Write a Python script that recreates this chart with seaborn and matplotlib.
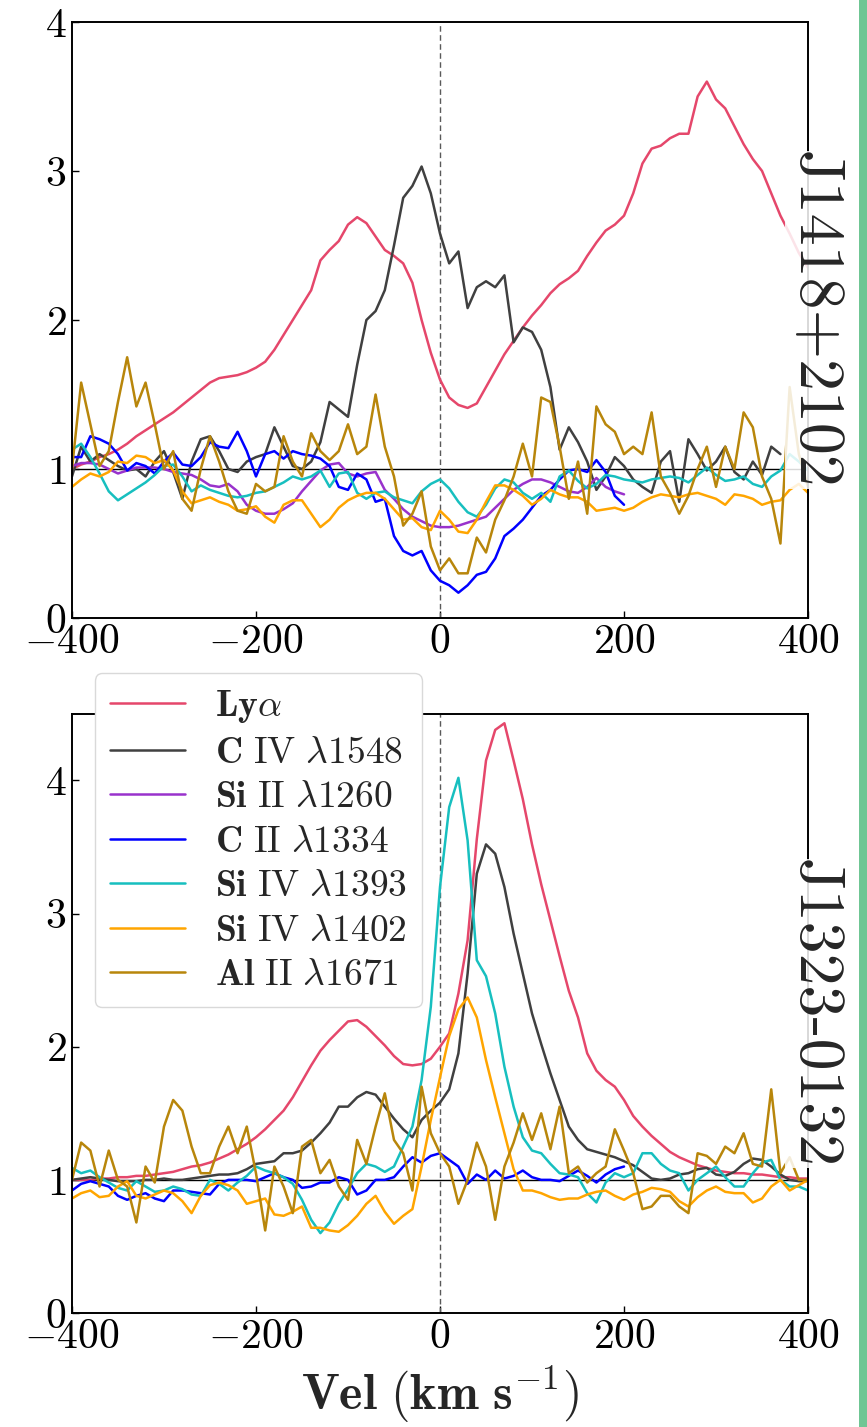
import matplotlib
matplotlib.use("Agg")
import matplotlib.pyplot as plt
from matplotlib.patches import Rectangle
import seaborn as sns
import numpy as np
import pandas as pd

# ---------------- data ----------------
VEL = np.arange(-400, 401, 10)          # full velocity grid (km/s)
VEL_TO200 = np.arange(-400, 201, 10)
VEL_TO370 = np.arange(-400, 371, 10)

LINE_NAMES = ["Lya", "CIV1548", "SiII1260", "CII1334", "SiIV1393", "SiIV1402", "AlII1671"]
LINE_LABELS = [r"$\mathbf{Ly}\alpha$",
               r"$\mathbf{C}\ \mathrm{IV}\ \lambda1548$",
               r"$\mathbf{Si}\ \mathrm{II}\ \lambda1260$",
               r"$\mathbf{C}\ \mathrm{II}\ \lambda1334$",
               r"$\mathbf{Si}\ \mathrm{IV}\ \lambda1393$",
               r"$\mathbf{Si}\ \mathrm{IV}\ \lambda1402$",
               r"$\mathbf{Al}\ \mathrm{II}\ \lambda1671$"]
LINE_COLORS = ["#e5476b", "#404040", "#9932cc", "#0000ff", "#17bfbf", "#ffa500", "#b8860b"]

OBJ_TOP = "J1418+2102"
OBJ_BOT = "J1323-0132"

# ---- J1418+2102 (top panel) ----
top_lya = [1.00, 1.03, 1.05, 1.08, 1.10, 1.13, 1.17, 1.22, 1.26, 1.30,
           1.34, 1.38, 1.43, 1.48, 1.53, 1.58, 1.61, 1.62, 1.63, 1.65,
           1.68, 1.72, 1.80, 1.90, 2.00, 2.10, 2.20, 2.40, 2.47, 2.53,
           2.64, 2.69, 2.65, 2.56, 2.47, 2.43, 2.38, 2.25, 2.00, 1.78,
           1.60, 1.48, 1.43, 1.41, 1.44, 1.55, 1.66, 1.77, 1.86, 1.95,
           2.03, 2.10, 2.18, 2.24, 2.28, 2.33, 2.43, 2.52, 2.60, 2.64,
           2.70, 2.85, 3.05, 3.15, 3.17, 3.22, 3.25, 3.25, 3.50, 3.60,
           3.48, 3.42, 3.30, 3.18, 3.08, 3.00, 2.85, 2.70, 2.58, 2.45,
           2.35]
top_civ = [0.95, 1.15, 1.05, 1.10, 1.06, 1.02, 0.99, 1.00, 0.95, 1.05,
           1.12, 0.98, 0.80, 1.05, 1.20, 1.22, 1.12, 1.00, 0.98, 1.05,
           1.08, 1.10, 1.28, 1.15, 1.02, 1.00, 1.05, 1.18, 1.45, 1.40,
           1.35, 1.70, 2.00, 2.06, 2.20, 2.50, 2.82, 2.90, 3.03, 2.85,
           2.58, 2.38, 2.46, 2.08, 2.22, 2.26, 2.22, 2.30, 1.85, 1.95,
           1.92, 1.80, 1.55, 1.13, 1.28, 1.18, 1.05, 0.86, 0.95, 1.08,
           1.02, 0.93, 0.88, 0.84, 1.05, 1.12, 0.78, 1.20, 1.10, 0.99,
           1.05, 1.15, 0.98, 0.93, 1.05, 0.96, 1.15, 1.10]
top_siii = [1.02, 1.04, 1.04, 1.03, 1.00, 0.97, 0.99, 1.01, 1.01, 1.01,
            1.00, 0.98, 0.97, 0.96, 0.93, 0.89, 0.88, 0.90, 0.85, 0.76,
            0.72, 0.70, 0.70, 0.73, 0.77, 0.85, 0.92, 0.99, 1.03, 1.04,
            0.97, 0.95, 0.97, 0.98, 0.86, 0.80, 0.73, 0.68, 0.65, 0.62,
            0.61, 0.61, 0.62, 0.64, 0.66, 0.68, 0.74, 0.80, 0.86, 0.90,
            0.93, 0.93, 0.91, 0.88, 0.85, 0.84, 0.88, 0.94, 0.88, 0.85,
            0.83]
top_cii = [1.08, 1.08, 1.22, 1.20, 1.17, 1.10, 0.99, 1.04, 1.02, 0.97,
           1.05, 1.11, 1.03, 1.02, 1.08, 1.18, 1.15, 1.14, 1.25, 1.12,
           0.95, 1.10, 1.12, 1.07, 1.12, 1.10, 1.09, 1.07, 1.02, 0.88,
           0.86, 0.97, 0.93, 0.78, 0.80, 0.55, 0.45, 0.42, 0.45, 0.32,
           0.25, 0.22, 0.17, 0.22, 0.29, 0.31, 0.40, 0.55, 0.60, 0.66,
           0.74, 0.82, 0.86, 0.93, 0.99, 1.00, 0.98, 1.06, 0.98, 0.82,
           0.76]
top_siiv93 = [1.13, 1.17, 1.08, 0.97, 0.85, 0.79, 0.83, 0.87, 0.91, 0.96,
              1.02, 1.03, 0.95, 0.85, 0.89, 0.86, 0.84, 0.82, 0.81, 0.82,
              0.84, 0.85, 0.88, 0.91, 0.95, 0.93, 0.95, 0.99, 0.88, 0.97,
              0.98, 0.84, 0.80, 0.84, 0.85, 0.81, 0.79, 0.77, 0.85, 0.90,
              0.93, 0.87, 0.78, 0.71, 0.68, 0.76, 0.87, 0.93, 0.91, 0.84,
              0.80, 0.84, 0.78, 0.95, 0.99, 0.92, 0.87, 0.90, 0.96, 0.95,
              0.93, 0.92, 0.91, 0.93, 0.94, 0.95, 0.94, 0.91, 0.96, 1.01,
              0.96, 0.92, 0.93, 0.95, 0.90, 0.88, 0.95, 0.99, 1.10, 1.05,
              0.99]
top_siiv02 = [0.88, 0.93, 0.97, 0.95, 0.98, 1.05, 1.04, 1.09, 1.08, 1.04,
              1.06, 0.99, 0.85, 0.77, 0.79, 0.81, 0.78, 0.76, 0.72, 0.73,
              0.75, 0.68, 0.64, 0.76, 0.79, 0.79, 0.70, 0.61, 0.66, 0.74,
              0.79, 0.82, 0.84, 0.84, 0.80, 0.73, 0.66, 0.67, 0.61, 0.59,
              0.72, 0.66, 0.58, 0.57, 0.66, 0.78, 0.89, 0.89, 0.86, 0.82,
              0.76, 0.80, 0.86, 0.83, 0.81, 0.81, 0.78, 0.72, 0.73, 0.74,
              0.72, 0.74, 0.78, 0.81, 0.83, 0.82, 0.81, 0.83, 0.84, 0.82,
              0.80, 0.76, 0.83, 0.82, 0.80, 0.76, 0.78, 0.79, 0.86, 0.90,
              0.84]
top_alii = [1.00, 1.58, 1.30, 1.02, 1.12, 1.45, 1.75, 1.42, 1.58, 1.30,
            1.00, 1.12, 0.80, 0.72, 1.00, 1.22, 1.05, 0.85, 0.72, 0.70,
            0.90, 0.85, 0.88, 1.22, 1.05, 0.95, 1.24, 1.12, 1.06, 1.12,
            1.30, 1.10, 1.15, 1.50, 1.15, 0.95, 0.62, 0.70, 0.85, 0.48,
            0.32, 0.40, 0.30, 0.30, 0.54, 0.44, 0.66, 0.79, 0.95, 1.17,
            0.95, 1.48, 1.45, 1.15, 0.80, 1.05, 0.70, 1.42, 1.30, 1.25,
            1.10, 1.15, 1.10, 1.38, 0.95, 0.84, 0.70, 0.82, 1.00, 1.15,
            0.88, 1.15, 1.00, 1.38, 1.28, 0.95, 0.80, 0.50, 1.55, 1.10,
            0.88]

# ---- J1323-0132 (bottom panel) ----
bot_lya = [1.00, 1.00, 1.00, 1.01, 1.01, 1.02, 1.02, 1.03, 1.03, 1.04,
           1.05, 1.06, 1.08, 1.10, 1.11, 1.13, 1.16, 1.19, 1.23, 1.27,
           1.32, 1.38, 1.45, 1.52, 1.62, 1.74, 1.86, 1.97, 2.05, 2.12,
           2.19, 2.20, 2.15, 2.08, 2.01, 1.93, 1.87, 1.86, 1.87, 1.91,
           2.00, 2.10, 2.40, 2.80, 3.56, 4.15, 4.38, 4.43, 4.15, 3.86,
           3.52, 3.22, 2.95, 2.68, 2.42, 2.22, 1.95, 1.82, 1.75, 1.70,
           1.60, 1.48, 1.40, 1.33, 1.27, 1.21, 1.17, 1.14, 1.11, 1.09,
           1.07, 1.06, 1.05, 1.05, 1.04, 1.04, 1.03, 1.02, 1.02, 1.01,
           1.01]
bot_civ = [1.00, 1.01, 1.02, 1.01, 1.00, 0.99, 0.99, 0.99, 1.00, 1.00,
           1.01, 1.00, 1.00, 1.01, 1.02, 1.03, 1.04, 1.04, 1.05, 1.08,
           1.12, 1.13, 1.14, 1.20, 1.20, 1.22, 1.28, 1.35, 1.43, 1.55,
           1.55, 1.62, 1.66, 1.64, 1.55, 1.46, 1.38, 1.32, 1.45, 1.52,
           1.58, 1.68, 1.95, 2.55, 3.30, 3.52, 3.45, 3.20, 2.85, 2.55,
           2.25, 2.02, 1.80, 1.60, 1.40, 1.30, 1.23, 1.21, 1.19, 1.17,
           1.14, 1.11, 1.06, 1.01, 1.00, 1.01, 1.04, 1.05, 1.08, 1.09,
           1.04, 1.03, 1.06, 1.12, 1.16, 1.15, 1.10, 1.04, 1.00, 0.99,
           0.99]
bot_cii = [0.92, 0.97, 0.99, 0.97, 0.95, 0.88, 0.85, 0.88, 0.90, 0.86,
           0.84, 0.92, 0.92, 0.91, 0.90, 0.89, 0.97, 1.00, 1.00, 1.00,
           0.99, 1.02, 1.05, 1.02, 1.00, 0.94, 0.95, 0.98, 0.98, 1.02,
           1.00, 0.89, 0.92, 1.00, 1.00, 1.02, 1.10, 1.17, 1.13, 1.18,
           1.20, 1.15, 1.10, 0.97, 1.04, 1.00, 1.07, 1.01, 1.03, 1.07,
           1.02, 1.00, 1.00, 0.99, 1.03, 1.07, 1.03, 0.98, 1.04, 1.08,
           1.10]
bot_siiv93 = [1.09, 1.05, 1.07, 1.02, 0.98, 0.94, 0.92, 0.99, 0.95, 0.91,
              0.92, 0.95, 0.93, 0.89, 0.88, 1.00, 0.97, 0.92, 0.98, 1.03,
              1.10, 1.07, 1.05, 1.02, 0.97, 0.85, 0.70, 0.60, 0.68, 0.82,
              0.93, 1.05, 1.12, 1.10, 1.06, 1.10, 1.25, 1.40, 1.75, 2.30,
              3.20, 3.80, 4.02, 3.55, 2.65, 2.53, 2.25, 1.85, 1.55, 1.32,
              1.22, 1.20, 1.12, 1.05, 1.04, 1.02, 0.90, 0.83, 0.98, 1.05,
              1.02, 1.05, 1.20, 1.20, 1.12, 1.07, 1.05, 0.92, 1.00, 1.05,
              1.10, 1.02, 0.95, 0.95, 1.05, 1.13, 1.15, 1.00, 0.95, 0.95,
              0.92]
bot_siiv02 = [0.86, 0.90, 0.92, 0.87, 0.88, 0.95, 0.99, 0.88, 0.86, 0.89,
              0.92, 0.90, 0.84, 0.75, 0.88, 0.96, 0.98, 0.96, 0.92, 0.82,
              0.84, 0.86, 0.74, 0.73, 0.76, 0.80, 0.64, 0.64, 0.62, 0.61,
              0.66, 0.73, 0.82, 0.88, 0.76, 0.67, 0.73, 0.78, 1.10, 1.45,
              1.77, 2.08, 2.28, 2.37, 2.22, 1.90, 1.62, 1.35, 1.08, 0.92,
              0.92, 0.90, 0.87, 0.85, 0.86, 0.86, 0.89, 0.91, 0.92, 0.88,
              0.85, 0.89, 0.91, 0.94, 0.93, 0.91, 0.84, 0.80, 0.87, 0.92,
              0.95, 0.91, 0.90, 0.90, 0.83, 0.86, 0.95, 1.00, 0.92, 0.96,
              1.00]
bot_alii = [1.00, 1.28, 1.22, 0.95, 1.22, 1.00, 0.95, 0.68, 1.10, 0.98,
            1.40, 1.60, 1.52, 1.25, 1.05, 1.05, 1.25, 1.40, 1.20, 1.40,
            1.05, 0.62, 1.10, 0.95, 0.75, 1.25, 1.30, 1.05, 1.15, 0.95,
            0.85, 1.30, 1.12, 1.40, 1.65, 1.30, 1.20, 0.92, 1.70, 1.35,
            1.20, 1.10, 0.82, 1.00, 1.28, 1.10, 0.70, 1.10, 1.28, 1.50,
            1.30, 1.50, 1.23, 1.55, 1.05, 1.10, 0.98, 1.05, 1.10, 1.38,
            1.22, 1.05, 0.78, 0.80, 0.88, 0.88, 0.80, 0.75, 1.20, 1.18,
            1.12, 1.25, 1.20, 1.35, 1.12, 1.10, 1.68, 1.05, 1.17, 1.00,
            1.00]

TOP_SERIES = [("Lya", VEL, top_lya), ("CIV1548", VEL_TO370, top_civ),
              ("SiII1260", VEL_TO200, top_siii), ("CII1334", VEL_TO200, top_cii),
              ("SiIV1393", VEL, top_siiv93), ("SiIV1402", VEL, top_siiv02),
              ("AlII1671", VEL, top_alii)]
BOT_SERIES = [("Lya", VEL, bot_lya), ("CIV1548", VEL, bot_civ),
              ("CII1334", VEL_TO200, bot_cii), ("SiIV1393", VEL, bot_siiv93),
              ("SiIV1402", VEL, bot_siiv02), ("AlII1671", VEL, bot_alii)]


def to_frame(series):
    parts = [pd.DataFrame({"vel": v, "flux": f, "line": name}) for name, v, f in series]
    return pd.concat(parts, ignore_index=True)


# ---------------- style ----------------
sns.set_style("ticks")
plt.rcParams.update({
    "font.family": ["cmr10", "DejaVu Serif"],
    "mathtext.fontset": "cm",
    "axes.formatter.use_mathtext": True,
    "axes.unicode_minus": True,
    "xtick.direction": "in",
    "ytick.direction": "in",
    "axes.edgecolor": "black",
    "axes.linewidth": 1.4,
    "xtick.color": "black",
    "ytick.color": "black",
    "xtick.major.width": 1.0,
    "ytick.major.width": 1.0,
    "xtick.major.size": 5,
    "ytick.major.size": 5,
    "xtick.labelsize": 30,
    "ytick.labelsize": 30,
})

palette = dict(zip(LINE_NAMES, LINE_COLORS))

fig = plt.figure(figsize=(8.67, 14.27), dpi=100)
ax_top = fig.add_axes([0.083, 0.5669, 0.849, 0.4177])
ax_bot = fig.add_axes([0.083, 0.0799, 0.849, 0.4198])

for ax, series, ymax, obj in [(ax_top, TOP_SERIES, 4.0, OBJ_TOP),
                              (ax_bot, BOT_SERIES, 4.5, OBJ_BOT)]:
    df = to_frame(series)
    order = [n for n in LINE_NAMES if n in df["line"].unique()]
    sns.lineplot(data=df, x="vel", y="flux", hue="line", hue_order=order,
                 palette=palette, estimator=None, sort=False, ax=ax,
                 linewidth=1.8, legend=False)
    ax.axhline(1.0, color="black", lw=1.0, zorder=1)
    ax.axvline(0.0, color="0.35", lw=1.0, ls=(0, (4, 2.5)), zorder=1)
    ax.set_xlim(-400, 400)
    ax.set_ylim(0, ymax)
    ax.set_xticks([-400, -200, 0, 200, 400])
    ax.set_yticks([0, 1, 2, 3, 4])
    ax.set_xlabel("")
    ax.set_ylabel("")
    ax.tick_params(axis="both", pad=4, top=False, right=False)
    for sp in ax.spines.values():
        sp.set_visible(True)
    ax.text(1.008, 0.5, obj, transform=ax.transAxes, rotation=270,
            ha="center", va="center", fontsize=46, zorder=10,
            bbox=dict(facecolor="white", edgecolor="none", alpha=0.85, pad=0))

ax_bot.set_xlabel(r"$\mathbf{Vel\ (km\ s}^{-1}\mathbf{)}$", fontsize=36, labelpad=6)

# legend built from the top-panel lines (contains all seven transitions)
handles = ax_top.get_lines()[:7]
leg = ax_bot.legend(handles, LINE_LABELS, loc="upper left",
                    bbox_to_anchor=(0.031, 1.068), borderaxespad=0,
                    fontsize=27, frameon=True, fancybox=True,
                    edgecolor="0.85", framealpha=1.0, labelspacing=0.3,
                    handlelength=2.0, handletextpad=0.8, borderpad=0.4)
leg.set_zorder(20)

# green strip at the right edge of the image
fig.add_artist(Rectangle((0.9908, 0.0), 0.0092, 1.0, transform=fig.transFigure,
                         facecolor="#6fc694", edgecolor="none"))

fig.savefig("out.png", dpi=100)
